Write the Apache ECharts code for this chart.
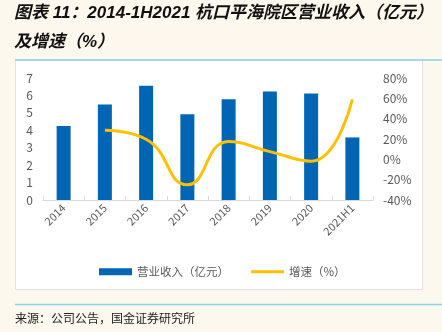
<!DOCTYPE html>
<html><head><meta charset="utf-8">
<script src="https://cdn.jsdelivr.net/npm/echarts@6/dist/echarts.min.js"></script>
<style>html,body{margin:0;padding:0;background:#FCF8EE;}#c{width:442px;height:332px;}</style>
</head><body><div id="c"></div>
<script>
var categories = ['2014','2015','2016','2017','2018','2019','2020','2021H1'];
var revenue = [4.25, 5.48, 6.56, 4.92, 5.78, 6.22, 6.11, 3.59];
var growth = [null, 28.7, 19.7, -25.0, 17.5, 7.6, -1.8, 59.0];
var leftTicks = [0, 7, 1];
var rightTicks = [-40, 80, 20];
var chart = echarts.init(document.getElementById('c'));
var font = '"Noto Sans CJK SC", "Liberation Sans", sans-serif';
var titleFont = '"Liberation Sans", "Noto Sans CJK SC", sans-serif';
chart.setOption({
  backgroundColor: '#FCF8EE',
  animation: false,
  title: {
    text: '图表 11：2014-1H2021 杭口平海院区营业收入（亿元）\n及增速（%）',
    left: 14, top: -1, padding: 0,
    textStyle: {fontFamily: titleFont, fontSize: 17, fontWeight: 'bold', fontStyle: 'italic', color: '#111', lineHeight: 29}
  },
  graphic: [
    {type: 'rect', shape: {x: 15.5, y: 60.5, width: 407, height: 229}, style: {fill: '#FFFFFF', stroke: '#E2E2E2', lineWidth: 1}, z: -10},
    {type: 'line', shape: {x1: 15, y1: 60, x2: 442, y2: 60}, style: {stroke: '#8DCFE8', lineWidth: 1.5}, z: -5},
    {type: 'line', shape: {x1: 15, y1: 304.5, x2: 442, y2: 304.5}, style: {stroke: '#8DCFE8', lineWidth: 1.5}, z: -5},
    {type: 'text', left: 15, top: 312, style: {text: '来源：公司公告，国金证券研究所', fontFamily: font, fontSize: 12, fill: '#222'}}
  ],
  legend: {
    left: 94, top: 261, itemGap: 22, itemWidth: 33, itemHeight: 7,
    textStyle: {fontFamily: font, fontSize: 11.5, color: '#595959'},
    data: [{name: '营业收入（亿元）', icon: 'rect'}, {name: '增速（%）', icon: 'path://M0,0H34V3H0Z'}]
  },
  grid: {left: 43, right: 69, top: 78, bottom: 132},
  xAxis: {
    type: 'category', data: categories,
    axisLine: {lineStyle: {color: '#D9D9D9'}},
    axisTick: {show: true, inside: true, length: 4, lineStyle: {color: '#D9D9D9'}},
    axisLabel: {rotate: 45, color: '#595959', fontSize: 11, fontFamily: font, margin: 6}
  },
  yAxis: [
    {type: 'value', min: leftTicks[0], max: leftTicks[1], interval: leftTicks[2],
     splitLine: {show: false}, axisLine: {show: false}, axisTick: {show: false},
     axisLabel: {color: '#595959', fontSize: 12, fontFamily: font, margin: 10}},
    {type: 'value', min: rightTicks[0], max: rightTicks[1], interval: rightTicks[2],
     splitLine: {show: false}, axisLine: {show: false}, axisTick: {show: false},
     axisLabel: {color: '#595959', fontSize: 12, fontFamily: font, margin: 10, formatter: '{value}%'}}
  ],
  series: [
    {name: '营业收入（亿元）', type: 'bar', data: revenue, barWidth: 14, itemStyle: {color: '#0066B3'}},
    {name: '增速（%）', type: 'line', yAxisIndex: 1, data: growth, smooth: 0.5, symbol: 'none', showSymbol: false,
     lineStyle: {color: '#FFC000', width: 3}, itemStyle: {color: '#FFC000'}}
  ]
});
</script></body></html>
